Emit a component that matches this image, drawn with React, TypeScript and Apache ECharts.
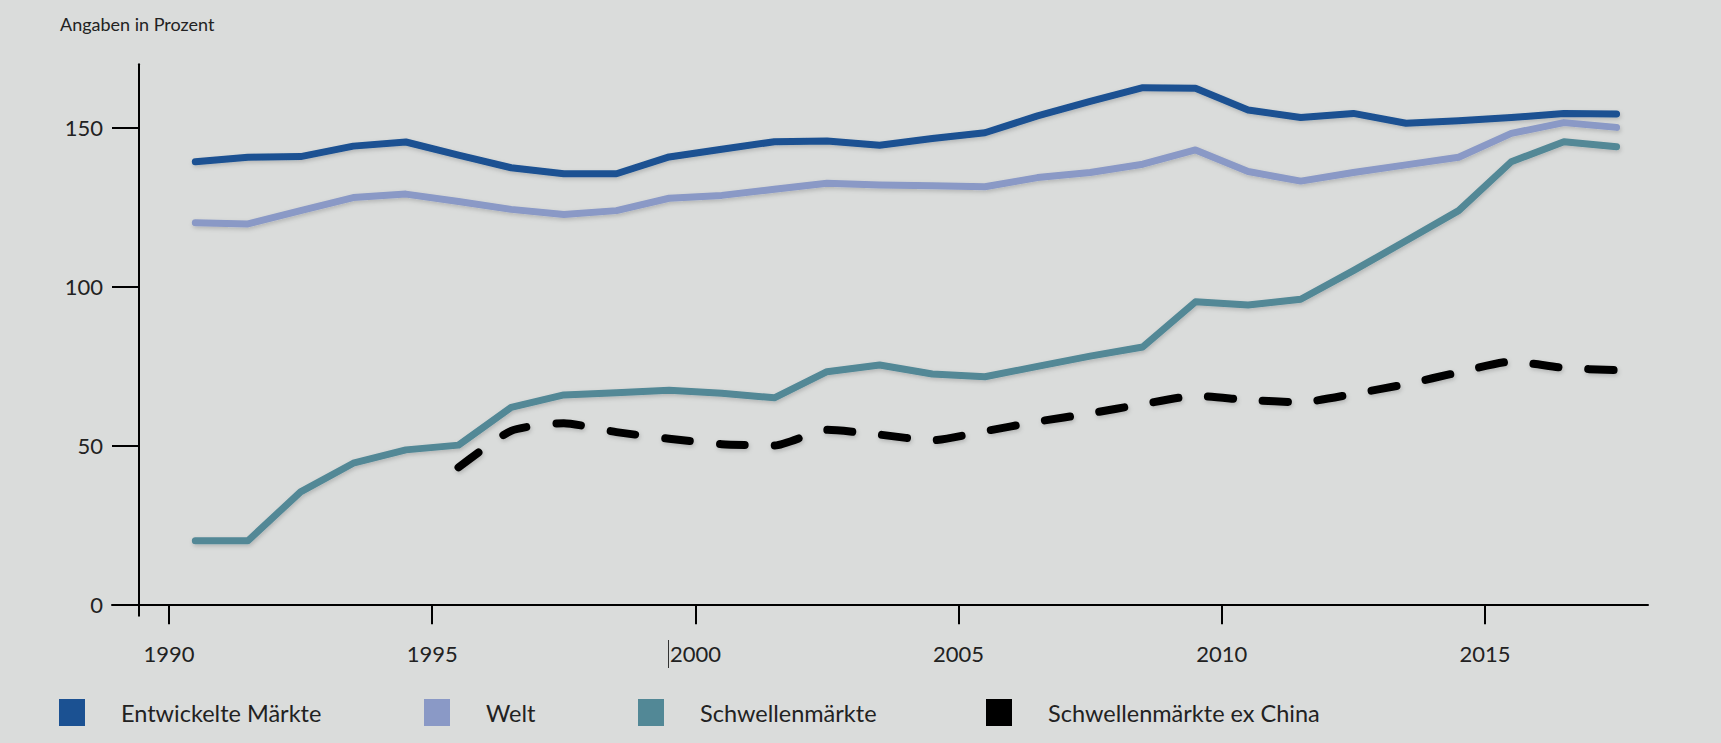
import React, { useEffect, useRef } from "react";
import * as echarts from "echarts";

// Years (data points are plotted at mid-year)
const years = [
  1990, 1991, 1992, 1993, 1994, 1995, 1996, 1997, 1998, 1999,
  2000, 2001, 2002, 2003, 2004, 2005, 2006, 2007, 2008, 2009,
  2010, 2011, 2012, 2013, 2014, 2015, 2016, 2017,
];
const exChinaYears = [
  1995, 1996, 1997, 1998, 1999, 2000, 2001, 2002, 2003, 2004,
  2005, 2006, 2007, 2008, 2009, 2010, 2011, 2012, 2013, 2014,
  2015, 2016, 2017,
];

const entwickelteMaerkte = [
  139.3, 140.7, 140.9, 144.2, 145.5, 141.4, 137.4, 135.5, 135.5, 140.8,
  143.2, 145.6, 145.8, 144.5, 146.6, 148.4, 153.7, 158.3, 162.6, 162.4,
  155.6, 153.2, 154.5, 151.4, 152.2, 153.2, 154.5, 154.3,
];
const welt = [
  120.1, 119.7, 123.9, 128.0, 129.1, 126.8, 124.3, 122.7, 123.9, 127.8,
  128.7, 130.6, 132.5, 132.0, 131.7, 131.4, 134.3, 135.9, 138.5, 143.0,
  136.2, 133.2, 135.9, 138.3, 140.7, 148.2, 151.6, 150.1,
];
const schwellenmaerkte = [
  20.0, 20.0, 35.4, 44.4, 48.6, 50.1, 62.0, 65.9, 66.6, 67.4,
  66.4, 65.0, 73.2, 75.3, 72.5, 71.6, 74.9, 78.1, 81.0, 95.2,
  94.2, 96.0, 105.0, 114.4, 123.9, 139.3, 145.6, 144.0,
];
const schwellenmaerkteExChina = [
  43.1, 54.6, 57.0, 54.2, 52.1, 50.4, 50.0, 54.9, 53.4, 51.6,
  54.5, 57.5, 60.1, 63.0, 65.6, 64.3, 63.6, 66.2, 69.3, 73.0,
  76.4, 74.4, 73.7,
];

const xTickYears = [1990, 1995, 2000, 2005, 2010, 2015];
const yTickValues = [0, 50, 100, 150];

const seriesNames = [
  "Entwickelte Märkte",
  "Welt",
  "Schwellenmärkte",
  "Schwellenmärkte ex China",
];
const seriesColors = ["#1b5192", "#8a99c6", "#528896", "#000000"];

const FONT = "Lato, 'Open Sans', sans-serif";
const BG = "#dadcdb";

const pairs = (ys: number[], vs: number[]) => ys.map((y, i) => [y + 0.5, vs[i]]);

export default function App() {
  const ref = useRef<HTMLDivElement>(null);

  useEffect(() => {
    if (!ref.current) return;
    const chart = echarts.init(ref.current, null, { renderer: "svg" });

    const shadow = {
      shadowColor: "rgba(0,0,0,0.18)",
      shadowBlur: 4,
      shadowOffsetX: 1,
      shadowOffsetY: 2,
    };

    const legendLefts = [59, 424, 638, 986];

    const option: any = {
      animation: false,
      backgroundColor: BG,
      title: {
        text: "Angaben in Prozent",
        left: 60,
        top: 15,
        padding: 0,
        textStyle: {
          fontFamily: FONT,
          fontSize: 18,
          fontWeight: "normal",
          color: "#222",
        },
      },
      grid: {
        left: 112,
        top: 64.16,
        width: 1536,
        height: 551.58,
        containLabel: false,
        outerBoundsMode: "none",
      },
      xAxis: {
        type: "value",
        min: 1988.917,
        max: 2018.097,
        axisLine: { show: true, onZero: true, lineStyle: { color: "#000", width: 2 } },
        axisTick: {
          show: true,
          inside: false,
          length: 20,
          customValues: xTickYears,
          lineStyle: { color: "#000", width: 2 },
        },
        axisLabel: {
          show: true,
          customValues: xTickYears,
          formatter: (v: number) => String(v),
          margin: 27,
          fontFamily: FONT,
          fontSize: 22,
          color: "#222",
        },
        splitLine: { show: false },
      },
      yAxis: {
        type: "value",
        min: -3.6,
        max: 170,
        offset: -27,
        axisLine: { show: true, lineStyle: { color: "#000", width: 2 } },
        axisTick: {
          show: true,
          inside: false,
          length: 27,
          customValues: yTickValues,
          lineStyle: { color: "#000", width: 2 },
        },
        axisLabel: {
          show: true,
          customValues: yTickValues,
          formatter: (v: number) => String(v),
          margin: 36,
          fontFamily: FONT,
          fontSize: 22,
          color: "#222",
        },
        splitLine: { show: false },
      },
      legend: seriesNames.map((name, i) => ({
        left: legendLefts[i],
        top: 699,
        padding: 0,
        itemWidth: 26,
        itemHeight: 27,
        icon: "rect",
        selectedMode: false,
        itemStyle: { borderWidth: 0 },
        data: [
          {
            name,
            icon: "rect",
            itemStyle: { color: seriesColors[i], borderWidth: 0, shadowBlur: 0 },
          },
        ],
        textStyle: {
          fontFamily: FONT,
          fontSize: 23.5,
          color: "#222",
          padding: [0, 0, 0, 31],
        },
      })),
      series: [
        {
          name: seriesNames[0],
          type: "line",
          data: pairs(years, entwickelteMaerkte),
          showSymbol: false,
          symbol: "none",
          itemStyle: { color: seriesColors[0] },
          lineStyle: { width: 7, color: seriesColors[0], cap: "round", join: "round", ...shadow },
        },
        {
          name: seriesNames[1],
          type: "line",
          data: pairs(years, welt),
          showSymbol: false,
          symbol: "none",
          itemStyle: { color: seriesColors[1] },
          lineStyle: { width: 7, color: seriesColors[1], cap: "round", join: "round", ...shadow },
        },
        {
          name: seriesNames[2],
          type: "line",
          data: pairs(years, schwellenmaerkte),
          showSymbol: false,
          symbol: "none",
          itemStyle: { color: seriesColors[2] },
          lineStyle: { width: 7, color: seriesColors[2], cap: "round", join: "round", ...shadow },
        },
        {
          name: seriesNames[3],
          type: "line",
          data: pairs(exChinaYears, schwellenmaerkteExChina),
          showSymbol: false,
          symbol: "none",
          smooth: 0.2,
          itemStyle: { color: seriesColors[3] },
          lineStyle: {
            width: 8,
            color: seriesColors[3],
            type: [25, 30],
            cap: "round",
            join: "round",
            ...shadow,
          },
        },
      ],
      graphic: [
        {
          type: "line",
          shape: { x1: 668.5, y1: 640, x2: 668.5, y2: 668 },
          style: { stroke: "#333", lineWidth: 1 },
          silent: true,
        },
      ],
    };

    chart.setOption(option);
    return () => chart.dispose();
  }, []);

  return (
    <div
      ref={ref}
      style={{
        position: "fixed",
        left: 0,
        top: 0,
        width: 1721,
        height: 743,
        background: BG,
      }}
    />
  );
}
